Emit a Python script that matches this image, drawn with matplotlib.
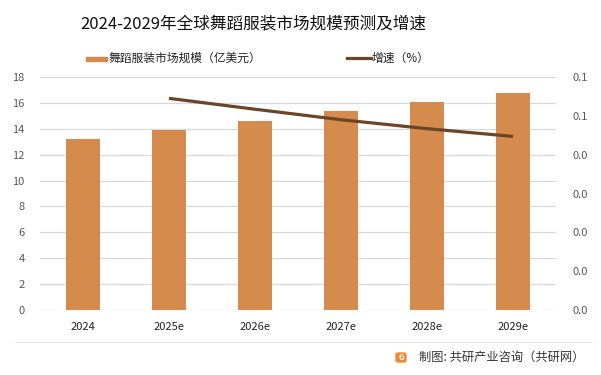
import matplotlib
matplotlib.use('Agg')
import matplotlib.pyplot as plt
from matplotlib.patches import Rectangle, FancyBboxPatch
from matplotlib.lines import Line2D

plt.rcParams['font.family'] = ['Noto Sans CJK SC', 'DejaVu Sans']

# data
years = ['2024', '2025e', '2026e', '2027e', '2028e', '2029e']
market_size = [13.18, 13.88, 14.57, 15.35, 16.05, 16.74]   # 亿美元
growth_years = ['2025e', '2026e', '2027e', '2028e', '2029e']
growth = [0.0545, 0.0517, 0.0490, 0.0467, 0.0447]
left_ticks = [0, 2, 4, 6, 8, 10, 12, 14, 16, 18]
right_ticks = [0.0, 0.01, 0.02, 0.03, 0.04, 0.05, 0.06]

bar_color = '#D48B4D'
line_color = '#6B4526'
tick_color = '#595959'
grid_color = '#D9D9D9'

W, H = 601, 375
fig = plt.figure(figsize=(W / 100, H / 100), dpi=100)

# axes box in pixel units -> figure fractions
x0, x1, y_top, y_bot = 40, 556, 77, 310
ax = fig.add_axes([x0 / W, 1 - y_bot / H, (x1 - x0) / W, (y_bot - y_top) / H])

xpos = list(range(len(years)))
ax.bar(xpos, market_size, width=0.4, color=bar_color, zorder=2)
ax.set_xlim(-0.5, len(years) - 0.5)
ax.set_ylim(0, 18)
ax.set_yticks(left_ticks)
ax.set_xticks(xpos)
ax.set_xticklabels(years)
ax.grid(axis='y', color=grid_color, linewidth=0.9, zorder=0)
for s in ax.spines.values():
    s.set_visible(False)
ax.tick_params(axis='both', length=0, colors=tick_color, labelsize=8)
ax.tick_params(axis='x', pad=9, labelcolor='#222222')
ax.tick_params(axis='y', pad=11)

ax2 = ax.twinx()
gx = [years.index(y) for y in growth_years]
ax2.plot(gx, growth, color=line_color, linewidth=2.3, solid_capstyle='butt', zorder=3)
ax2.set_ylim(0, 0.06)
ax2.set_yticks(right_ticks)
ax2.yaxis.set_major_formatter(matplotlib.ticker.FormatStrFormatter('%.1f'))
for s in ax2.spines.values():
    s.set_visible(False)
ax2.tick_params(axis='y', length=0, colors=tick_color, labelsize=8, pad=12)

def fx(px):
    return px / W

def fy(py):
    return 1 - py / H

# title
fig.text(fx(253), fy(24), '2024-2029年全球舞蹈服装市场规模预测及增速',
         ha='center', va='center', fontsize=12, color='#111111')

# legend, drawn by hand to match placement
fig.patches.append(Rectangle((fx(86), fy(61)), fx(21), 4 / H, transform=fig.transFigure,
                             color=bar_color))
fig.text(fx(109), fy(58), '舞蹈服装市场规模（亿美元）', ha='left', va='center',
         fontsize=8.5, color='#222222')
fig.lines.append(Line2D([fx(347), fx(371)], [fy(57.5), fy(57.5)], transform=fig.transFigure,
                        color=line_color, linewidth=2.3))
fig.text(fx(372), fy(58), '增速（%）', ha='left', va='center', fontsize=8.5, color='#222222')

# footer rule and source note
fig.lines.append(Line2D([fx(15), fx(592)], [fy(342), fy(342)], transform=fig.transFigure,
                        color='#E6E6E6', linewidth=0.8))
fig.patches.append(FancyBboxPatch((fx(396), fy(362)), fx(10), 9 / H,
                                  boxstyle='round,pad=0,rounding_size=0.004',
                                  transform=fig.transFigure, color='#F08A3A'))
fig.text(fx(398.5), fy(357.5), 'G', ha='left', va='center', fontsize=5.5,
         color='white', fontweight='bold')
fig.text(fx(419), fy(357), '制图: 共研产业咨询（共研网）', ha='left', va='center',
         fontsize=8.8, color='#333333')

fig.savefig('out.png', dpi=100)
